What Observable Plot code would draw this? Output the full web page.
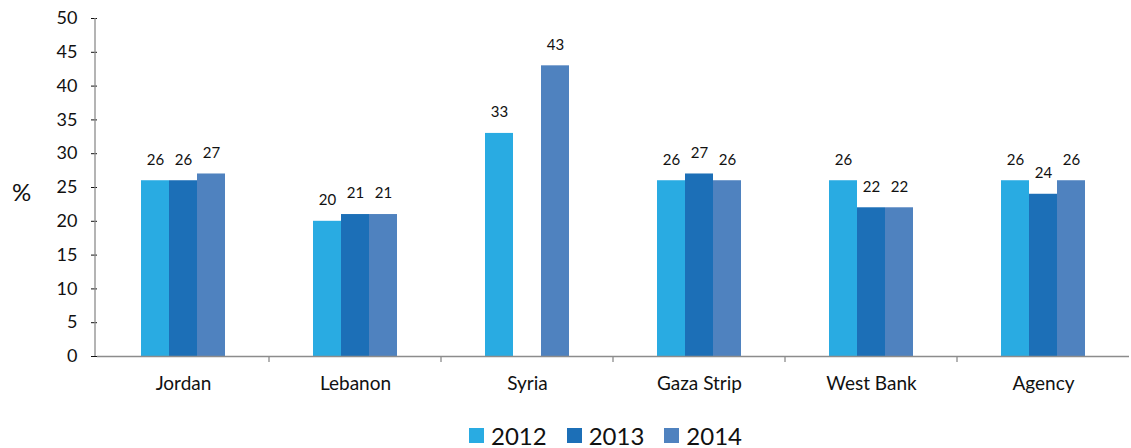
<!DOCTYPE html>
<html>
<head>
<meta charset="utf-8">
<script src="https://cdn.jsdelivr.net/npm/d3@7"></script>
<script src="https://cdn.jsdelivr.net/npm/@observablehq/plot@0.6"></script>
<style>
  body { margin: 0; background: #fff; font-family: Lato, "Open Sans", sans-serif; }
  #wrap { position: relative; width: 1131px; }
  #pct { position: absolute; left: 12px; top: 177px; font-size: 24px; color: #111; }
  #legend { display: flex; justify-content: center; align-items: center; padding-left: 80px; height: 30px; font-size: 24px; color: #111; }
  #legend .item { display: flex; align-items: center; margin: 0 10px; }
  #legend .sw { width: 15px; height: 15px; margin-right: 7px; }
  svg text { font-family: Lato, "Open Sans", sans-serif; }
  g[aria-label="y-axis tick"] { stroke: #8c8c8c; }
  g[aria-label="y-axis tick label"] { font-size: 18px; fill: #111; }
  g[aria-label="fx-axis tick label"] { font-size: 19px; fill: #111; }
</style>
</head>
<body>
<div id="wrap"><div id="pct">%</div></div>
<script>
const categories = ["Jordan", "Lebanon", "Syria", "Gaza Strip", "West Bank", "Agency"];
const years = ["2012", "2013", "2014"];
const values2012 = [26, 20, 33, 26, 26, 26];
const values2013 = [26, 21, null, 27, 22, 24];
const values2014 = [27, 21, 43, 26, 22, 26];
const yTicks = [0, 5, 10, 15, 20, 25, 30, 35, 40, 45, 50];
const colors = ["#29ABE2", "#1C6FB7", "#4F82BF"];

const series = [values2012, values2013, values2014];
const rows = [];
categories.forEach((c, i) => {
  years.forEach((y, k) => {
    const v = series[k][i];
    if (v != null) rows.push({category: c, year: y, value: v});
  });
});

const W = 1131, H = 420, mL = 95, mR = 0, mT = 18, mB = 64;

const plot = Plot.plot({
  width: W, height: H,
  marginLeft: mL, marginRight: mR, marginTop: mT, marginBottom: mB,
  style: {fontFamily: "Lato, 'Open Sans', sans-serif", color: "#111", overflow: "visible"},
  fx: {domain: categories, padding: 0, label: null, tickSize: 0, tickPadding: 20},
  x: {domain: years, paddingInner: 0, paddingOuter: 1.478, axis: null},
  y: {domain: [0, 50], ticks: yTicks, tickSize: 6, tickPadding: 14, label: null},
  color: {domain: years, range: colors},
  marks: [
    Plot.barY(rows, {fx: "category", x: "year", y: "value", fill: "year", inset: 0}),
    Plot.ruleY([0], {stroke: "#8c8c8c", strokeWidth: 1.3}),
    Plot.text(rows, {fx: "category", x: "year", y: "value", text: d => String(d.value), dy: -21, fontSize: 15, fill: "#111"})
  ]
});

// axis decorations: y-axis line and category boundary ticks
const svg = d3.select(plot.tagName.toLowerCase() === "svg" ? plot : plot.querySelector("svg"));
const fx = plot.scale("fx");
const g = svg.append("g").attr("stroke", "#8c8c8c").attr("stroke-width", 1.3);
g.append("line").attr("x1", mL).attr("x2", mL).attr("y1", mT).attr("y2", H - mB);
categories.forEach((c, i) => {
  if (i === 0) return;
  const x = fx.apply(c);
  g.append("line").attr("x1", x).attr("x2", x).attr("y1", H - mB).attr("y2", H - mB + 6);
});

document.getElementById("wrap").appendChild(plot);

const legend = document.createElement("div");
legend.id = "legend";
years.forEach((y, k) => {
  const it = document.createElement("div");
  it.className = "item";
  it.innerHTML = `<span class="sw" style="background:${colors[k]}"></span><span>${y}</span>`;
  legend.appendChild(it);
});
document.body.appendChild(legend);
</script>
</body>
</html>
